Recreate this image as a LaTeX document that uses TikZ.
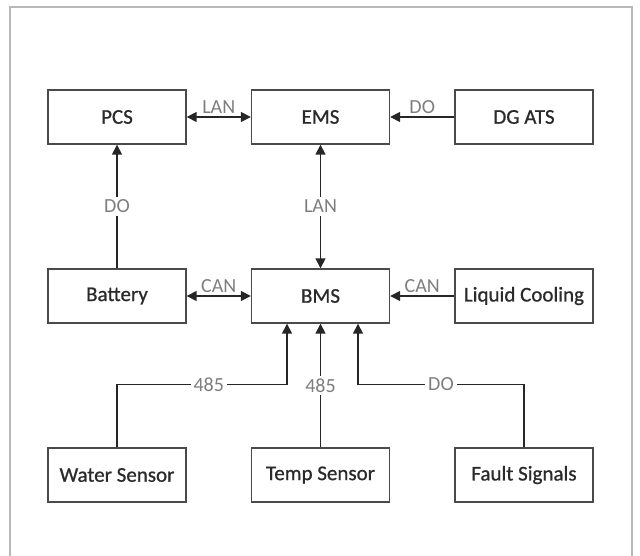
\documentclass[tikz,border=0pt]{standalone}
\usepackage{fontspec}
\setmainfont{Carlito}
\newfontfamily\boxfont{Carlito}[FakeBold=0.8]
\usetikzlibrary{arrows.meta,positioning}
\definecolor{boxline}{HTML}{4A4A4A}
\definecolor{boxtext}{HTML}{2A2A2A}
\definecolor{lblgray}{HTML}{7E7E7E}
\definecolor{framegray}{HTML}{B8B8B8}
\tikzset{
  blk/.style={draw=boxline, line width=1.4pt, minimum width=138pt, minimum height=54pt,
    inner sep=0pt, font=\boxfont\fontsize{21}{24}\selectfont, text=boxtext},
  conn/.style={draw=black!85, line width=1.6pt},
  arr/.style={conn, -{Triangle[length=10pt,width=10pt]}},
  darr/.style={conn, {Triangle[length=10pt,width=10pt]}-{Triangle[length=10pt,width=10pt]}},
  lbl/.style={font=\fontsize{20}{22}\selectfont, text=lblgray, inner sep=2pt},
  lblw/.style={lbl, fill=white, inner sep=3pt}
}
\begin{document}
\begin{tikzpicture}[x=1pt,y=-1pt]
\useasboundingbox (0,0) rectangle (640,556);
\draw[framegray, line width=1.5pt] (10,560) -- (10,7) -- (632,7) -- (632,560);
% top row
\node[blk] (pcs) at (117,117) {PCS};
\node[blk] (ems) at (320.5,117) {EMS};
\node[blk] (dg) at (524,117) {DG ATS};
% middle row
\node[blk] (bat) at (117,296) {Battery};
\node[blk] (bms) at (320.5,296) {BMS};
\node[blk] (lc) at (524,296) {Liquid Cooling};
% bottom row
\node[blk] (ws) at (117,475) {Water Sensor};
\node[blk] (ts) at (320.5,475) {Temp Sensor};
\node[blk] (fs) at (524,475) {Fault Signals};
% connectors
\draw[darr] (pcs.east) -- node[lbl,above=1pt] {LAN} (ems.west);
\draw[arr] (dg.west) -- node[lbl,above=1pt] {DO} (ems.east);
\draw[arr] (bat.north) -- node[lblw] {DO} (pcs.south);
\draw[darr] (ems.south) -- node[lblw] {LAN} (bms.north);
\draw[darr] (bat.east) -- node[lbl,above=1pt] {CAN} (bms.west);
\draw[arr] (lc.west) -- node[lbl,above=1pt] {CAN} (bms.east);
\draw[arr] (ws.north) -- ++(0,-63) -| node[lblw,pos=0.27] {485} ([xshift=-33.5pt]bms.south);
\draw[arr] (ts.north) -- node[lblw] {485} (bms.south);
\draw[arr] (fs.north) -- ++(0,-63) -| node[lblw,pos=0.25] {DO} ([xshift=37.5pt]bms.south);
\end{tikzpicture}
\end{document}
